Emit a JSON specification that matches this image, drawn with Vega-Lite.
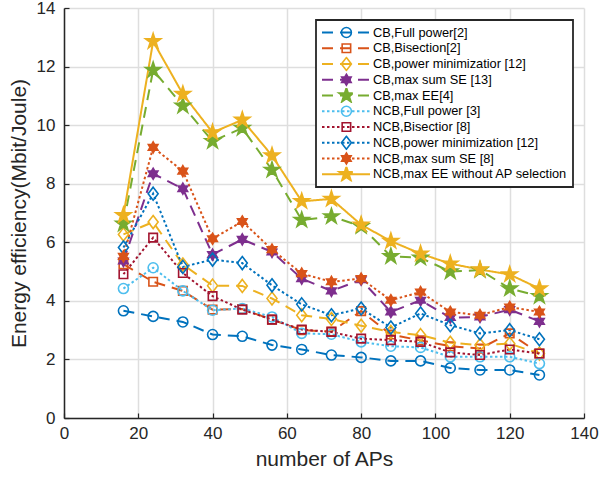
{
  "$schema": "https://vega.github.io/schema/vega-lite/v6.json",
  "width": 520,
  "height": 410,
  "autosize": "none",
  "padding": {"left": 64, "top": 8, "right": 16, "bottom": 61},
  "background": "white",
  "config": {
    "view": {"stroke": null},
    "font": "Liberation Sans",
    "axis": {
      "labelFont": "Liberation Sans",
      "titleFont": "Liberation Sans",
      "labelFontSize": 17,
      "titleFontSize": 21,
      "titleFontWeight": "normal",
      "labelColor": "#262626",
      "titleColor": "#262626",
      "domainColor": "#262626",
      "domainWidth": 1.5,
      "tickColor": "#262626",
      "tickWidth": 1.2,
      "tickSize": -5,
      "labelPadding": 13,
      "gridColor": "#dedede",
      "gridWidth": 1.5,
      "gridOpacity": 1,
      "labelFlush": false
    },
    "legend": {"labelFont": "Liberation Sans"}
  },
  "data": {"values": [
    {"s": "CB,Full power[2]", "k": 1, "x": 16, "y": 3.66},
    {"s": "CB,Full power[2]", "k": 1, "x": 24, "y": 3.47},
    {"s": "CB,Full power[2]", "k": 1, "x": 32, "y": 3.28},
    {"s": "CB,Full power[2]", "k": 1, "x": 40, "y": 2.85},
    {"s": "CB,Full power[2]", "k": 1, "x": 48, "y": 2.79},
    {"s": "CB,Full power[2]", "k": 1, "x": 56, "y": 2.49},
    {"s": "CB,Full power[2]", "k": 1, "x": 64, "y": 2.34},
    {"s": "CB,Full power[2]", "k": 1, "x": 72, "y": 2.15},
    {"s": "CB,Full power[2]", "k": 1, "x": 80, "y": 2.07},
    {"s": "CB,Full power[2]", "k": 1, "x": 88, "y": 1.95},
    {"s": "CB,Full power[2]", "k": 1, "x": 96, "y": 1.95},
    {"s": "CB,Full power[2]", "k": 1, "x": 104, "y": 1.71},
    {"s": "CB,Full power[2]", "k": 1, "x": 112, "y": 1.64},
    {"s": "CB,Full power[2]", "k": 1, "x": 120, "y": 1.64},
    {"s": "CB,Full power[2]", "k": 1, "x": 128, "y": 1.47},
    {"s": "CB,Bisection[2]", "k": 2, "x": 16, "y": 5.25},
    {"s": "CB,Bisection[2]", "k": 2, "x": 24, "y": 4.65},
    {"s": "CB,Bisection[2]", "k": 2, "x": 32, "y": 4.34},
    {"s": "CB,Bisection[2]", "k": 2, "x": 40, "y": 3.70},
    {"s": "CB,Bisection[2]", "k": 2, "x": 48, "y": 3.72},
    {"s": "CB,Bisection[2]", "k": 2, "x": 56, "y": 3.36},
    {"s": "CB,Bisection[2]", "k": 2, "x": 64, "y": 3.00},
    {"s": "CB,Bisection[2]", "k": 2, "x": 72, "y": 2.95},
    {"s": "CB,Bisection[2]", "k": 2, "x": 80, "y": 3.65},
    {"s": "CB,Bisection[2]", "k": 2, "x": 88, "y": 2.85},
    {"s": "CB,Bisection[2]", "k": 2, "x": 96, "y": 2.65},
    {"s": "CB,Bisection[2]", "k": 2, "x": 104, "y": 2.45},
    {"s": "CB,Bisection[2]", "k": 2, "x": 112, "y": 2.37},
    {"s": "CB,Bisection[2]", "k": 2, "x": 120, "y": 2.89},
    {"s": "CB,Bisection[2]", "k": 2, "x": 128, "y": 2.20},
    {"s": "CB,power minimizatior [12]", "k": 3, "x": 16, "y": 6.27},
    {"s": "CB,power minimizatior [12]", "k": 3, "x": 24, "y": 6.69},
    {"s": "CB,power minimizatior [12]", "k": 3, "x": 32, "y": 5.24},
    {"s": "CB,power minimizatior [12]", "k": 3, "x": 40, "y": 4.52},
    {"s": "CB,power minimizatior [12]", "k": 3, "x": 48, "y": 4.51},
    {"s": "CB,power minimizatior [12]", "k": 3, "x": 56, "y": 4.08},
    {"s": "CB,power minimizatior [12]", "k": 3, "x": 64, "y": 3.51},
    {"s": "CB,power minimizatior [12]", "k": 3, "x": 72, "y": 3.38},
    {"s": "CB,power minimizatior [12]", "k": 3, "x": 80, "y": 3.15},
    {"s": "CB,power minimizatior [12]", "k": 3, "x": 88, "y": 2.94},
    {"s": "CB,power minimizatior [12]", "k": 3, "x": 96, "y": 2.83},
    {"s": "CB,power minimizatior [12]", "k": 3, "x": 104, "y": 2.57},
    {"s": "CB,power minimizatior [12]", "k": 3, "x": 112, "y": 2.49},
    {"s": "CB,power minimizatior [12]", "k": 3, "x": 120, "y": 2.54},
    {"s": "CB,power minimizatior [12]", "k": 3, "x": 128, "y": 2.20},
    {"s": "CB,max sum SE [13]", "k": 4, "x": 16, "y": 5.36},
    {"s": "CB,max sum SE [13]", "k": 4, "x": 24, "y": 8.34},
    {"s": "CB,max sum SE [13]", "k": 4, "x": 32, "y": 7.83},
    {"s": "CB,max sum SE [13]", "k": 4, "x": 40, "y": 5.58},
    {"s": "CB,max sum SE [13]", "k": 4, "x": 48, "y": 6.10},
    {"s": "CB,max sum SE [13]", "k": 4, "x": 56, "y": 5.67},
    {"s": "CB,max sum SE [13]", "k": 4, "x": 64, "y": 4.76},
    {"s": "CB,max sum SE [13]", "k": 4, "x": 72, "y": 4.34},
    {"s": "CB,max sum SE [13]", "k": 4, "x": 80, "y": 4.72},
    {"s": "CB,max sum SE [13]", "k": 4, "x": 88, "y": 3.62},
    {"s": "CB,max sum SE [13]", "k": 4, "x": 96, "y": 4.02},
    {"s": "CB,max sum SE [13]", "k": 4, "x": 104, "y": 3.43},
    {"s": "CB,max sum SE [13]", "k": 4, "x": 112, "y": 3.45},
    {"s": "CB,max sum SE [13]", "k": 4, "x": 120, "y": 3.70},
    {"s": "CB,max sum SE [13]", "k": 4, "x": 128, "y": 3.30},
    {"s": "CB,max EE[4]", "k": 5, "x": 16, "y": 6.63},
    {"s": "CB,max EE[4]", "k": 5, "x": 24, "y": 11.88},
    {"s": "CB,max EE[4]", "k": 5, "x": 32, "y": 10.66},
    {"s": "CB,max EE[4]", "k": 5, "x": 40, "y": 9.45},
    {"s": "CB,max EE[4]", "k": 5, "x": 48, "y": 9.90},
    {"s": "CB,max EE[4]", "k": 5, "x": 56, "y": 8.47},
    {"s": "CB,max EE[4]", "k": 5, "x": 64, "y": 6.76},
    {"s": "CB,max EE[4]", "k": 5, "x": 72, "y": 6.88},
    {"s": "CB,max EE[4]", "k": 5, "x": 80, "y": 6.55},
    {"s": "CB,max EE[4]", "k": 5, "x": 88, "y": 5.52},
    {"s": "CB,max EE[4]", "k": 5, "x": 96, "y": 5.47},
    {"s": "CB,max EE[4]", "k": 5, "x": 104, "y": 5.00},
    {"s": "CB,max EE[4]", "k": 5, "x": 112, "y": 5.05},
    {"s": "CB,max EE[4]", "k": 5, "x": 120, "y": 4.42},
    {"s": "CB,max EE[4]", "k": 5, "x": 128, "y": 4.16},
    {"s": "NCB,Full power [3]", "k": 6, "x": 16, "y": 4.42},
    {"s": "NCB,Full power [3]", "k": 6, "x": 24, "y": 5.13},
    {"s": "NCB,Full power [3]", "k": 6, "x": 32, "y": 4.34},
    {"s": "NCB,Full power [3]", "k": 6, "x": 40, "y": 3.68},
    {"s": "NCB,Full power [3]", "k": 6, "x": 48, "y": 3.74},
    {"s": "NCB,Full power [3]", "k": 6, "x": 56, "y": 3.45},
    {"s": "NCB,Full power [3]", "k": 6, "x": 64, "y": 2.89},
    {"s": "NCB,Full power [3]", "k": 6, "x": 72, "y": 2.86},
    {"s": "NCB,Full power [3]", "k": 6, "x": 80, "y": 2.60},
    {"s": "NCB,Full power [3]", "k": 6, "x": 88, "y": 2.45},
    {"s": "NCB,Full power [3]", "k": 6, "x": 96, "y": 2.41},
    {"s": "NCB,Full power [3]", "k": 6, "x": 104, "y": 2.09},
    {"s": "NCB,Full power [3]", "k": 6, "x": 112, "y": 2.09},
    {"s": "NCB,Full power [3]", "k": 6, "x": 120, "y": 2.09},
    {"s": "NCB,Full power [3]", "k": 6, "x": 128, "y": 1.86},
    {"s": "NCB,Bisectior [8]", "k": 7, "x": 16, "y": 4.91},
    {"s": "NCB,Bisectior [8]", "k": 7, "x": 24, "y": 6.16},
    {"s": "NCB,Bisectior [8]", "k": 7, "x": 32, "y": 4.95},
    {"s": "NCB,Bisectior [8]", "k": 7, "x": 40, "y": 4.16},
    {"s": "NCB,Bisectior [8]", "k": 7, "x": 48, "y": 3.70},
    {"s": "NCB,Bisectior [8]", "k": 7, "x": 56, "y": 3.36},
    {"s": "NCB,Bisectior [8]", "k": 7, "x": 64, "y": 3.02},
    {"s": "NCB,Bisectior [8]", "k": 7, "x": 72, "y": 2.94},
    {"s": "NCB,Bisectior [8]", "k": 7, "x": 80, "y": 2.71},
    {"s": "NCB,Bisectior [8]", "k": 7, "x": 88, "y": 2.66},
    {"s": "NCB,Bisectior [8]", "k": 7, "x": 96, "y": 2.60},
    {"s": "NCB,Bisectior [8]", "k": 7, "x": 104, "y": 2.24},
    {"s": "NCB,Bisectior [8]", "k": 7, "x": 112, "y": 2.15},
    {"s": "NCB,Bisectior [8]", "k": 7, "x": 120, "y": 2.34},
    {"s": "NCB,Bisectior [8]", "k": 7, "x": 128, "y": 2.20},
    {"s": "NCB,power minimization [12]", "k": 8, "x": 16, "y": 5.82},
    {"s": "NCB,power minimization [12]", "k": 8, "x": 24, "y": 7.66},
    {"s": "NCB,power minimization [12]", "k": 8, "x": 32, "y": 5.16},
    {"s": "NCB,power minimization [12]", "k": 8, "x": 40, "y": 5.41},
    {"s": "NCB,power minimization [12]", "k": 8, "x": 48, "y": 5.29},
    {"s": "NCB,power minimization [12]", "k": 8, "x": 56, "y": 4.53},
    {"s": "NCB,power minimization [12]", "k": 8, "x": 64, "y": 3.88},
    {"s": "NCB,power minimization [12]", "k": 8, "x": 72, "y": 3.51},
    {"s": "NCB,power minimization [12]", "k": 8, "x": 80, "y": 3.74},
    {"s": "NCB,power minimization [12]", "k": 8, "x": 88, "y": 3.09},
    {"s": "NCB,power minimization [12]", "k": 8, "x": 96, "y": 3.57},
    {"s": "NCB,power minimization [12]", "k": 8, "x": 104, "y": 3.17},
    {"s": "NCB,power minimization [12]", "k": 8, "x": 112, "y": 2.89},
    {"s": "NCB,power minimization [12]", "k": 8, "x": 120, "y": 3.00},
    {"s": "NCB,power minimization [12]", "k": 8, "x": 128, "y": 2.69},
    {"s": "NCB,max sum SE [8]", "k": 9, "x": 16, "y": 5.52},
    {"s": "NCB,max sum SE [8]", "k": 9, "x": 24, "y": 9.24},
    {"s": "NCB,max sum SE [8]", "k": 9, "x": 32, "y": 8.43},
    {"s": "NCB,max sum SE [8]", "k": 9, "x": 40, "y": 6.12},
    {"s": "NCB,max sum SE [8]", "k": 9, "x": 48, "y": 6.71},
    {"s": "NCB,max sum SE [8]", "k": 9, "x": 56, "y": 5.75},
    {"s": "NCB,max sum SE [8]", "k": 9, "x": 64, "y": 4.93},
    {"s": "NCB,max sum SE [8]", "k": 9, "x": 72, "y": 4.65},
    {"s": "NCB,max sum SE [8]", "k": 9, "x": 80, "y": 4.76},
    {"s": "NCB,max sum SE [8]", "k": 9, "x": 88, "y": 4.02},
    {"s": "NCB,max sum SE [8]", "k": 9, "x": 96, "y": 4.30},
    {"s": "NCB,max sum SE [8]", "k": 9, "x": 104, "y": 3.62},
    {"s": "NCB,max sum SE [8]", "k": 9, "x": 112, "y": 3.51},
    {"s": "NCB,max sum SE [8]", "k": 9, "x": 120, "y": 3.79},
    {"s": "NCB,max sum SE [8]", "k": 9, "x": 128, "y": 3.62},
    {"s": "NCB,max EE without AP selection", "k": 10, "x": 16, "y": 6.92},
    {"s": "NCB,max EE without AP selection", "k": 10, "x": 24, "y": 12.86},
    {"s": "NCB,max EE without AP selection", "k": 10, "x": 32, "y": 11.06},
    {"s": "NCB,max EE without AP selection", "k": 10, "x": 40, "y": 9.75},
    {"s": "NCB,max EE without AP selection", "k": 10, "x": 48, "y": 10.18},
    {"s": "NCB,max EE without AP selection", "k": 10, "x": 56, "y": 8.96},
    {"s": "NCB,max EE without AP selection", "k": 10, "x": 64, "y": 7.40},
    {"s": "NCB,max EE without AP selection", "k": 10, "x": 72, "y": 7.48},
    {"s": "NCB,max EE without AP selection", "k": 10, "x": 80, "y": 6.60},
    {"s": "NCB,max EE without AP selection", "k": 10, "x": 88, "y": 6.04},
    {"s": "NCB,max EE without AP selection", "k": 10, "x": 96, "y": 5.61},
    {"s": "NCB,max EE without AP selection", "k": 10, "x": 104, "y": 5.27},
    {"s": "NCB,max EE without AP selection", "k": 10, "x": 112, "y": 5.07},
    {"s": "NCB,max EE without AP selection", "k": 10, "x": 120, "y": 4.90},
    {"s": "NCB,max EE without AP selection", "k": 10, "x": 128, "y": 4.42}
  ]},
  "encoding": {
    "x": {"field": "x", "type": "quantitative", "scale": {"domain": [0, 140], "nice": false},
      "axis": {"title": "number of APs", "values": [0, 20, 40, 60, 80, 100, 120, 140], "titlePadding": 7, "labelPadding": 12}},
    "y": {"field": "y", "type": "quantitative", "scale": {"domain": [0, 14], "nice": false},
      "axis": {"title": "Energy efficiency(Mbit/Joule)", "values": [0, 2, 4, 6, 8, 10, 12, 14], "titlePadding": 7, "labelPadding": 14}}
  },
  "layer": [
    {
      "mark": {"type": "line", "strokeWidth": 2, "strokeCap": "butt"},
      "encoding": {
        "color": {"field": "s", "type": "nominal",
          "scale": {
            "domain": ["CB,Full power[2]", "CB,Bisection[2]", "CB,power minimizatior [12]", "CB,max sum SE [13]", "CB,max EE[4]", "NCB,Full power [3]", "NCB,Bisectior [8]", "NCB,power minimization [12]", "NCB,max sum SE [8]", "NCB,max EE without AP selection"],
            "range": ["#0072BD", "#D95319", "#EDB120", "#7E2F8E", "#77AC30", "#4DBEEE", "#A2142F", "#0072BD", "#D95319", "#EDB120"]
          },
          "legend": {"orient": "none", "legendX": 252, "legendY": 12, "title": null, "symbolType": "stroke", "symbolSize": 2304, "symbolStrokeWidth": 2, "labelFont": "Liberation Sans", "labelFontSize": 12.8, "labelColor": "#000000", "labelOffset": 2, "clipHeight": 15, "rowPadding": 0.75, "padding": 5, "strokeColor": "#262626", "fillColor": "white", "labelLimit": 400,
            "encode": {"legend": {"update": {"strokeWidth": {"value": 1.8}}}}}
        },
        "strokeDash": {"field": "s", "type": "nominal",
          "scale": {
            "domain": ["CB,Full power[2]", "CB,Bisection[2]", "CB,power minimizatior [12]", "CB,max sum SE [13]", "CB,max EE[4]", "NCB,Full power [3]", "NCB,Bisectior [8]", "NCB,power minimization [12]", "NCB,max sum SE [8]", "NCB,max EE without AP selection"],
            "range": [[11, 7], [11, 7], [11, 7], [11, 7], [11, 7], [2.5, 2.5], [2.5, 2.5], [2.5, 2.5], [2.5, 2.5], [1, 0]]
          },
          "legend": {"orient": "none", "legendX": 252, "legendY": 12, "title": null, "symbolType": "stroke", "symbolSize": 2304, "symbolStrokeWidth": 2, "labelFont": "Liberation Sans", "labelFontSize": 12.8, "labelColor": "#000000", "labelOffset": 2, "clipHeight": 15, "rowPadding": 0.75, "padding": 5, "strokeColor": "#262626", "fillColor": "white", "labelLimit": 400,
            "encode": {"legend": {"update": {"strokeWidth": {"value": 1.8}}}}}
        }
      }
    },
    {
      "mark": {"type": "point", "strokeWidth": 1.6, "opacity": 1, "size": 100},
      "encoding": {
        "shape": {"field": "s", "type": "nominal", "sort": {"field": "k", "op": "min"},
          "scale": {"range": [
            "circle",
            "M-0.85,-0.85H0.85V0.85H-0.85Z",
            "M0,-1.3L1,0L0,1.3L-1,0Z",
            "M0,-1.1L0.318,-0.55L0.953,-0.55L0.635,0L0.953,0.55L0.318,0.55L0,1.1L-0.318,0.55L-0.953,0.55L-0.635,0L-0.953,-0.55L-0.318,-0.55Z",
            "M0,-1.6L0.359,-0.494L1.522,-0.494L0.581,0.189L0.941,1.294L0,0.611L-0.941,1.294L-0.581,0.189L-1.522,-0.494L-0.359,-0.494Z",
            "circle",
            "M-0.85,-0.85H0.85V0.85H-0.85Z",
            "M0,-1.3L1,0L0,1.3L-1,0Z",
            "M0,-1.1L0.318,-0.55L0.953,-0.55L0.635,0L0.953,0.55L0.318,0.55L0,1.1L-0.318,0.55L-0.953,0.55L-0.635,0L-0.953,-0.55L-0.318,-0.55Z",
            "M0,-1.6L0.359,-0.494L1.522,-0.494L0.581,0.189L0.941,1.294L0,0.611L-0.941,1.294L-0.581,0.189L-1.522,-0.494L-0.359,-0.494Z"
          ]},
          "legend": {"orient": "none", "legendX": 252, "legendY": 12, "title": null, "symbolSize": 100, "symbolStrokeWidth": 1.6, "labelFont": "Liberation Sans", "labelFontSize": 12.8, "labelExpr": "''", "labelOffset": 0, "symbolOffset": 19, "clipHeight": 15, "rowPadding": 0.75, "padding": 5, "labelLimit": 400}
        },
        "stroke": {"field": "s", "type": "nominal", "sort": {"field": "k", "op": "min"},
          "scale": {"range": ["#0072BD", "#D95319", "#EDB120", "#7E2F8E", "#77AC30", "#4DBEEE", "#A2142F", "#0072BD", "#D95319", "#EDB120"]},
          "legend": {"orient": "none", "legendX": 252, "legendY": 12, "title": null}
        },
        "fill": {"field": "s", "type": "nominal", "sort": {"field": "k", "op": "min"},
          "scale": {"range": ["transparent", "transparent", "transparent", "#7E2F8E", "#77AC30", "transparent", "transparent", "transparent", "#D95319", "#EDB120"]},
          "legend": {"orient": "none", "legendX": 252, "legendY": 12, "title": null}
        }
      }
    }
  ],
  "resolve": {"legend": {"color": "independent", "strokeDash": "independent", "shape": "independent", "stroke": "independent", "fill": "independent"}}
}
